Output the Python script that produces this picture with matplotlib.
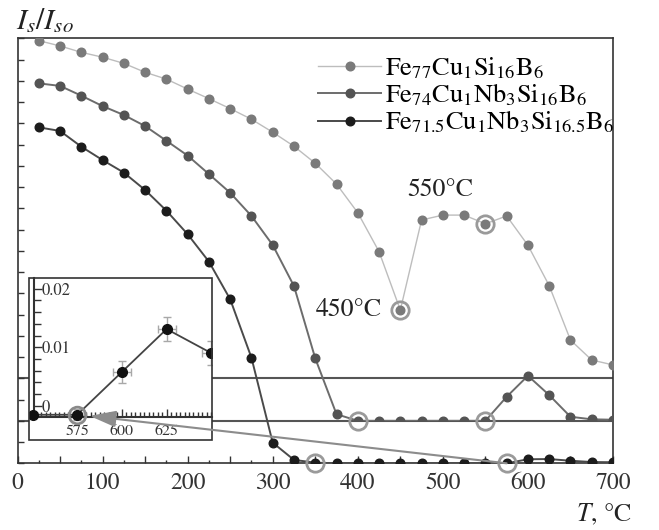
import numpy as np
import matplotlib
matplotlib.use('Agg')
import matplotlib.pyplot as plt
from matplotlib.patches import Rectangle, ConnectionPatch
from matplotlib.ticker import MultipleLocator, FixedLocator

plt.rcParams['font.family'] = ['STIXGeneral', 'DejaVu Serif']
plt.rcParams['mathtext.fontset'] = 'stix'

# ---------------- data ----------------
temps = list(range(25, 701, 25))

fe77 = [15.89, 15.64, 15.34, 15.11, 14.82, 14.40, 14.08, 13.61, 13.16, 12.69,
        12.19, 11.58, 10.92, 10.12, 9.14, 7.79, 5.96, 3.21, 7.45, 7.68,
        7.68, 7.27, 7.64, 6.26, 4.36, 1.80, 0.86, 0.63]
fe74 = [15.88, 15.76, 15.30, 14.81, 14.39, 13.87, 13.18, 12.48, 11.61, 10.73,
        9.64, 8.27, 6.34, 2.94, 0.31, 0.0, 0.0, 0.0, 0.0, 0.0,
        0.0, 0.0, 1.13, 2.12, 1.21, 0.19, 0.07, 0.05]
fe715 = [15.81, 15.64, 14.90, 14.27, 13.68, 12.86, 11.89, 10.78, 9.49, 7.72,
         4.97, 0.97, 0.16, 0.03, 0.0, 0.0, 0.0, 0.0, 0.0, 0.0,
         0.0, 0.0, 0.0, 0.19, 0.20, 0.12, 0.06, 0.05]

series_labels = [r'Fe$_{77}$Cu$_1$Si$_{16}$B$_6$',
                 r'Fe$_{74}$Cu$_1$Nb$_3$Si$_{16}$B$_6$',
                 r'Fe$_{71.5}$Cu$_1$Nb$_3$Si$_{16.5}$B$_6$']
offsets = [4, 2, 0]
highlights = [[450, 550], [400, 550], [350, 575]]

inset_T = [550, 575, 600, 625, 650]
inset_val = [-0.0015, -0.0015, 0.0058, 0.0131, 0.0090]
inset_xerr = [0, 4, 5, 5, 5]
inset_yerr = [0, 0.0009, 0.0019, 0.0021, 0.0020]
inset_highlight = 575

x_ticks = list(range(0, 701, 50))
x_ticklabels = [str(t) if t % 100 == 0 else '' for t in x_ticks]
inset_xticks = [575, 600, 625]
inset_yticks = [0, 0.01, 0.02]
inset_yticklabels = ['0', '0.01', '0.02']

# ---------------- figure ----------------
W, H = 659, 530
fig = plt.figure(figsize=(W / 100, H / 100), dpi=100)

def fx(px):
    return px / W

def fy(py):
    return 1 - py / H

ax = fig.add_axes([fx(17.5), fy(463.3), fx(613) - fx(17.5), fy(38.3) - fy(463.3)])
ax.set_xlim(0, 700)
ax.set_ylim(0, 20)

styles = [dict(mc='#7a7a7a', lc='#bdbdbd', lw=1.0),
          dict(mc='#545454', lc='#6c6c6c', lw=1.4),
          dict(mc='#1c1c1c', lc='#4a4a4a', lw=1.4)]

for off in offsets[:2]:
    ax.axhline(off, color='#555555', lw=1.5, zorder=1)

lines = []
for vals, off, lab, st, hl in zip([fe77, fe74, fe715], offsets, series_labels, styles, highlights):
    y = np.array(vals) + off
    ln, = ax.plot(temps, y, '-', color=st['lc'], lw=st['lw'], marker='o', ms=6.2,
                  mfc=st['mc'], mec=st['mc'], label=lab, zorder=3)
    if off > 0:
        clip = Rectangle((0, off), 700, 20 - off, transform=ax.transData)
        ln.set_clip_path(clip)
    lines.append(ln)
    for t in hl:
        i = temps.index(t)
        ax.plot(t, y[i], 'o', ms=12.5, mfc='none', mec='#9a9a9a', mew=2.0,
                clip_on=False, zorder=6)

ax.set_xticks(x_ticks, x_ticklabels)
ax.xaxis.set_minor_locator(MultipleLocator(25))
ax.tick_params(axis='x', which='major', direction='in', length=5, width=1,
               pad=7, labelsize=17, colors='#333333')
ax.tick_params(axis='x', which='minor', direction='in', length=2.5, width=1, colors='#333333')
ax.set_yticks(range(0, 21))
ax.set_yticklabels([])
ax.tick_params(axis='y', direction='in', length=4.5, width=1, colors='#333333')
for sp in ax.spines.values():
    sp.set_linewidth(1.2)
    sp.set_color('#333333')

leg = ax.legend(handles=lines, loc='upper left', bbox_to_anchor=(fx(318), fy(56)),
                bbox_transform=fig.transFigure, frameon=False, fontsize=19,
                handlelength=2.4, handletextpad=0.15, labelspacing=0.02,
                borderpad=0, borderaxespad=0, numpoints=1)

fig.text(fx(407), fy(190), '550°C', ha='left', va='center', fontsize=18.5, color='#222222')
fig.text(fx(316), fy(310), '450°C', ha='left', va='center', fontsize=18.5, color='#222222')
fig.text(fx(16), fy(22), r'$I_s/I_{so}$', ha='left', va='center', fontsize=21.5, color='#222222')
fig.text(fx(632), fy(515), r'$T$, °C', ha='right', va='center', fontsize=18.5, color='#222222')

# ---------------- inset ----------------
axin = fig.add_axes([fx(29.3), fy(440), fx(211.7) - fx(29.3), fy(278.3) - fy(440)])
axin.set_facecolor('white')
axin.set_zorder(5)
axin.set_xlim(548.2, 650.2)
axin.set_ylim(-0.0058, 0.02175)
axin.spines['top'].set_visible(False)
axin.spines['right'].set_visible(False)
axin.spines['left'].set_position(('data', 551.1))
axin.spines['left'].set_bounds(-0.0018, 0.02175)
axin.spines['bottom'].set_position(('data', -0.0018))
axin.spines['bottom'].set_bounds(551.1, 650.2)
for s in ['left', 'bottom']:
    axin.spines[s].set_linewidth(1.5)
    axin.spines[s].set_color('#333333')
axin.add_patch(Rectangle((0, 0), 1, 1, transform=axin.transAxes, fill=False,
                         lw=1.2, ec='#333333', clip_on=False, zorder=10))

axin.set_xticks(inset_xticks)
axin.xaxis.set_minor_locator(FixedLocator(np.arange(552.5, 650.1, 2.5)))
axin.tick_params(axis='x', which='major', direction='in', length=6, width=1,
                 pad=6, labelsize=11.5, colors='#333333')
axin.tick_params(axis='x', which='minor', direction='in', length=3.5, width=1, colors='#333333')
axin.set_yticks(inset_yticks, inset_yticklabels)
axin.yaxis.set_minor_locator(FixedLocator(np.arange(0.002, 0.0215, 0.002)))
axin.tick_params(axis='y', which='major', direction='in', length=6, width=1,
                 pad=-5, labelsize=12, colors='#333333')
axin.tick_params(axis='y', which='minor', direction='in', length=5, width=1, colors='#333333')
for lbl in axin.get_yticklabels():
    lbl.set_horizontalalignment('left')

axin.errorbar(inset_T, inset_val, xerr=inset_xerr, yerr=inset_yerr, fmt='none',
              ecolor='#a8a8a8', elinewidth=1, capsize=3, zorder=2)
axin.plot(inset_T, inset_val, '-o', color='#444444', lw=1.3, ms=7,
          mfc='#111111', mec='#111111', zorder=3)
ii = inset_T.index(inset_highlight)
axin.plot(inset_T[ii], inset_val[ii], 'o', ms=12, mfc='none', mec='#8a8a8a', mew=2, zorder=4)

# arrow from main highlighted point to inset
i3 = temps.index(inset_highlight)
con = ConnectionPatch(xyA=(inset_highlight, fe715[i3] + offsets[2]), coordsA=ax.transData,
                      xyB=(582.0, -0.0017), coordsB=axin.transData,
                      arrowstyle='-|>,head_length=0.8,head_width=0.25',
                      mutation_scale=20, color='#8c8c8c', lw=1.5,
                      shrinkA=0, shrinkB=0)
con.set_zorder(12)
fig.add_artist(con)

fig.savefig('out.png', dpi=100)
